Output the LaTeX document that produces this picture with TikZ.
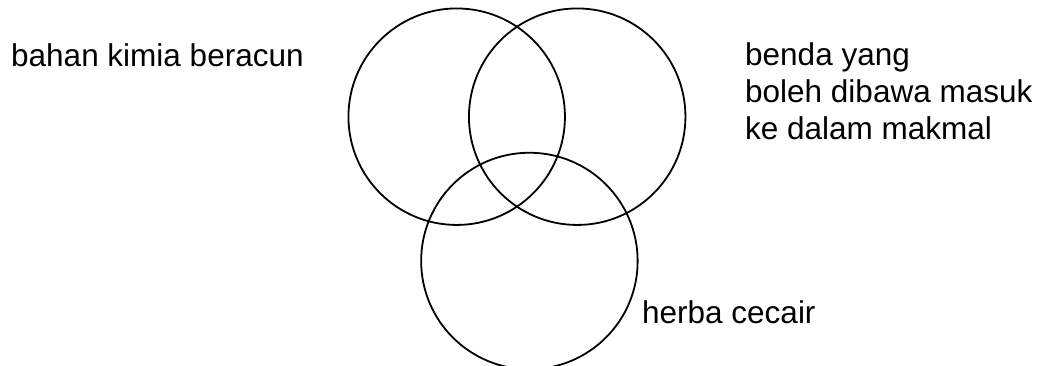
\documentclass[tikz,border=0pt]{standalone}
\usepackage{fontspec}
\setmainfont{Liberation Sans}
\begin{document}
\begin{tikzpicture}[x=1pt,y=1pt,
  setc/.style={circle,draw=black,line width=1.8pt,minimum size=216.5pt,inner sep=0pt},
  lbl/.style={anchor=base west,inner sep=0pt,font=\fontsize{31.5}{37}\selectfont}]
\useasboundingbox (0,0) rectangle (1042,366);
\node[setc] (A) at (456.7,249.3) {};
\node[setc] (B) at (577.2,249.3) {};
\node[setc] (C) at (529.4,105) {};
\node[lbl] (ta) at (11,299.5) {bahan kimia beracun};
\node[lbl] (tb1) at (745,300) {benda yang};
\node[lbl] (tb2) at (745,263) {boleh dibawa masuk};
\node[lbl] (tb3) at (745,226) {ke dalam makmal};
\node[lbl] (tc) at (642,42.7) {herba cecair};
\end{tikzpicture}
\end{document}
